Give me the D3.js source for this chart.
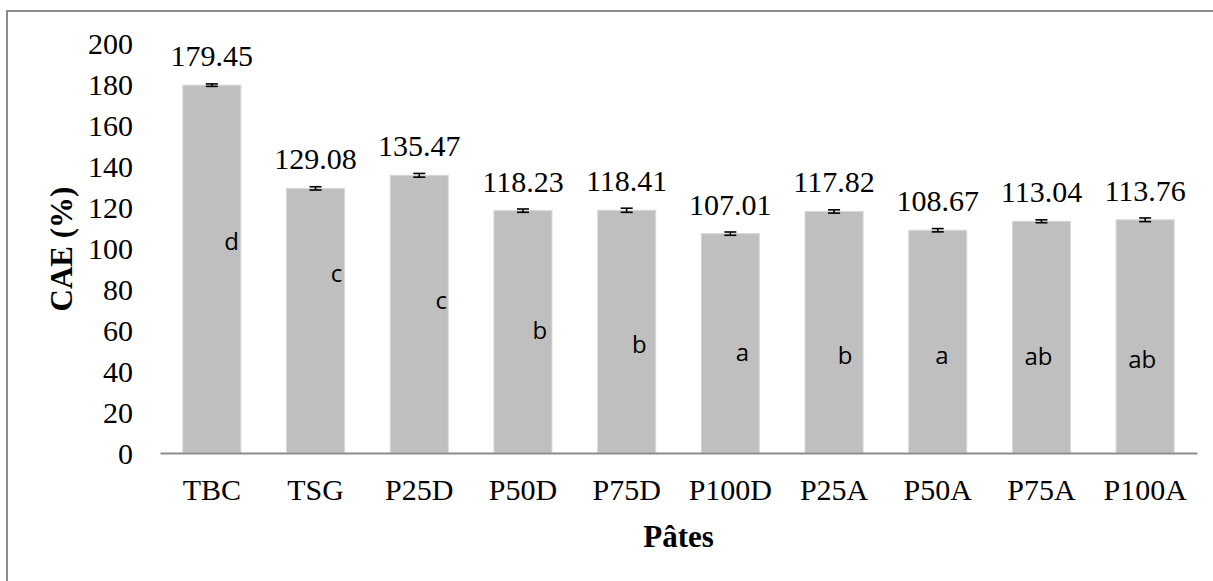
<!DOCTYPE html>
<html><head><meta charset="utf-8">
<script src="https://cdn.jsdelivr.net/npm/d3@7"></script>
<style>body{margin:0;background:#fff;}svg{display:block;}</style>
</head><body>
<svg id="chart" width="1213" height="581"></svg>
<script>
const categories = ["TBC","TSG","P25D","P50D","P75D","P100D","P25A","P50A","P75A","P100A"];
const values = [179.45,129.08,135.47,118.23,118.41,107.01,117.82,108.67,113.04,113.76];
const errors = [0.6,0.8,0.9,0.8,1.0,0.8,0.8,0.8,0.7,0.9];
const letters = ["d","c","c","b","b","a","b","a","ab","ab"];
const letterAt = [99,83.4,70.2,55.6,48.8,44.9,43.4,43.4,42.9,41.5];
const letterShift = [0.34,0.36,0.38,0.29,0.22,0.21,0.19,0.07,-0.05,-0.05];
const yTicks = [0,20,40,60,80,100,120,140,160,180,200];

const svg = d3.select("#chart");
svg.append("rect").attr("x",7).attr("y",11).attr("width",1230).attr("height",620)
  .attr("fill","none").attr("stroke","#8c8c8c").attr("stroke-width",2);

const x = d3.scaleBand().domain(categories).range([160,1197]).paddingInner(0.44).paddingOuter(0.22);
const y = d3.scaleLinear().domain([0,200]).range([453,43]);
const serif = "'Liberation Serif','Times New Roman',serif";

// bars
svg.append("g").selectAll("rect").data(categories).join("rect")
  .attr("x",d=>x(d)).attr("y",(d,i)=>y(values[i]))
  .attr("width",x.bandwidth()).attr("height",(d,i)=>y(0)-y(values[i]))
  .attr("fill","#bfbfbf").attr("stroke","#d9d9d9").attr("stroke-width",1);

// x axis
const xAxis = svg.append("g").attr("transform",`translate(0,${y(0)})`)
  .call(d3.axisBottom(x).tickSize(0).tickPadding(26));
xAxis.select(".domain").attr("stroke","#8c8c8c").attr("stroke-width",2);
xAxis.selectAll("text").attr("font-family",serif).attr("font-size",30).attr("fill","#000");

// y axis (labels only)
const yAxis = svg.append("g").attr("transform","translate(133,0)")
  .call(d3.axisLeft(y).tickValues(yTicks).tickSize(0).tickPadding(0));
yAxis.select(".domain").remove();
yAxis.selectAll("text").attr("font-family",serif).attr("font-size",30).attr("fill","#000").attr("dy","0.35em");

// error bars
const eg = svg.append("g").attr("stroke","#000").attr("stroke-width",1.6);
categories.forEach((c,i)=>{
  const cx = x(c)+x.bandwidth()/2;
  const y1 = y(values[i]+errors[i]), y2 = y(values[i]-errors[i]);
  eg.append("line").attr("x1",cx).attr("x2",cx).attr("y1",y1).attr("y2",y2);
  eg.append("line").attr("x1",cx-6).attr("x2",cx+6).attr("y1",y1).attr("y2",y1);
  eg.append("line").attr("x1",cx-6).attr("x2",cx+6).attr("y1",y2).attr("y2",y2);
});

// value labels
svg.append("g").selectAll("text").data(categories).join("text")
  .attr("x",d=>x(d)+x.bandwidth()/2).attr("y",(d,i)=>y(values[i])-19)
  .attr("text-anchor","middle").attr("font-family",serif).attr("font-size",30).attr("fill","#000")
  .text((d,i)=>values[i].toFixed(2));

// significance letters
svg.append("g").selectAll("text").data(categories).join("text")
  .attr("x",(d,i)=>x(d)+x.bandwidth()/2+letterShift[i]*x.bandwidth())
  .attr("y",(d,i)=>y(letterAt[i]))
  .attr("text-anchor","middle").attr("font-family","'Open Sans','Noto Sans',sans-serif")
  .attr("font-size",24).attr("fill","#000")
  .text((d,i)=>letters[i]);

// axis titles
svg.append("text").attr("transform","translate(72,249) rotate(-90)")
  .attr("text-anchor","middle").attr("font-family",serif).attr("font-size",31).attr("font-weight","bold")
  .text("CAE (%)");
svg.append("text").attr("x",(160+1197)/2).attr("y",547)
  .attr("text-anchor","middle").attr("font-family",serif).attr("font-size",31).attr("font-weight","bold")
  .text("Pâtes");
</script>
</body></html>
